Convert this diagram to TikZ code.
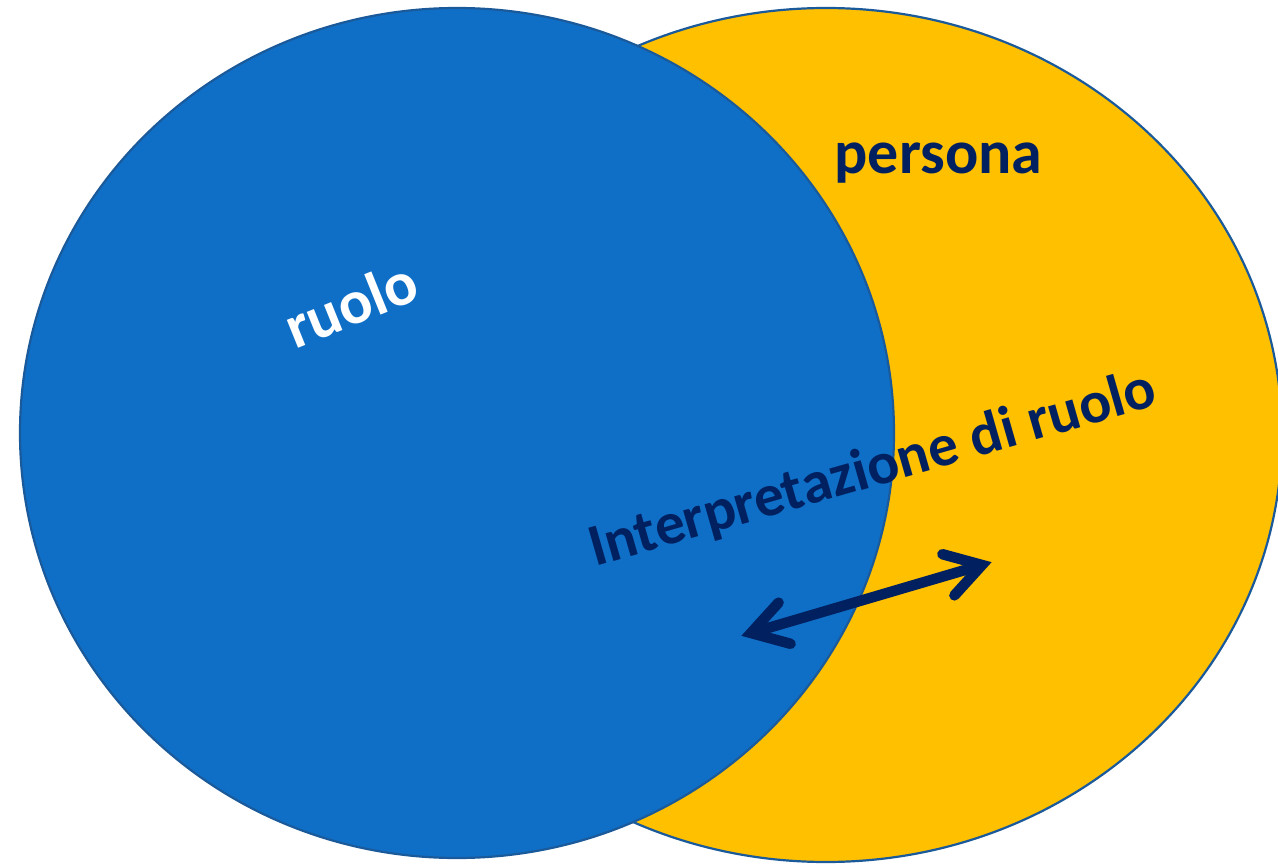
\documentclass[tikz,border=0pt]{standalone}
\usepackage{fontspec}
\setmainfont{Carlito}
\definecolor{rblue}{HTML}{0F6FC6}
\definecolor{ryellow}{HTML}{FFC000}
\definecolor{rnavy}{HTML}{002060}
\definecolor{redge}{HTML}{1B5A9A}
\tikzset{
  circ/.style={draw=redge, line width=2.2pt},
  lbl/.style={font=\bfseries\fontsize{#1}{#1}\selectfont, inner sep=0pt},
  arrowline/.style={draw=rnavy, line width=10.5pt, line cap=round, line join=miter, miter limit=10}
}
\begin{document}
\begin{tikzpicture}[x=1pt, y=-1pt]
\useasboundingbox (0,0) rectangle (1278,864);
\clip (0,0) rectangle (1278,864);
\path[circ, fill=ryellow] (826,435) ellipse [x radius=456, y radius=427];
\path[circ, fill=rblue] (457,433) ellipse [x radius=437, y radius=425];
\node[lbl=62, text=rnavy, anchor=base] (persona) at (938.5,174) {persona};
\node[lbl=62, text=white, rotate=22] (ruolo) at (351,304) {ruolo};
\node[lbl=59.5, text=rnavy, rotate=16] (interp) at (873,470) {Interpretazione di ruolo};
% double-headed arrow
\coordinate (tipL) at (751,633);
\coordinate (tipR) at (982,565);
\coordinate (armL1) at (778.6,602.6);
\coordinate (armL2) at (790.6,643.8);
\coordinate (armR1) at (942.4,554.2);
\coordinate (armR2) at (954.4,595.4);
\draw[arrowline, line cap=butt] (tipL) -- (tipR);
\draw[arrowline] (armL1) -- (tipL) -- (armL2);
\draw[arrowline] (armR1) -- (tipR) -- (armR2);
\end{tikzpicture}
\end{document}
